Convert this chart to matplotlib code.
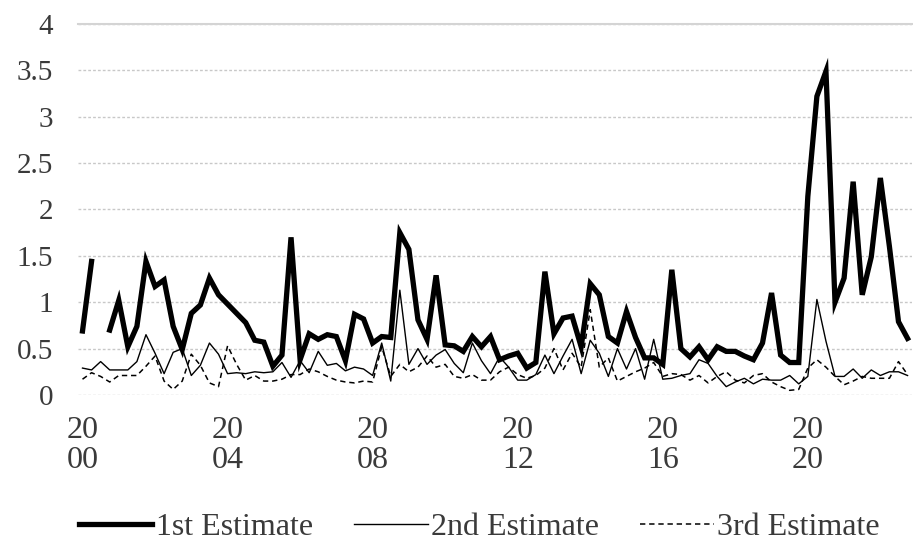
import numpy as np
import matplotlib
matplotlib.use("Agg")
import matplotlib.pyplot as plt

# quarterly, 2000Q1 .. 2022Q4
quarters = [f"{y}Q{q}" for y in range(2000, 2023) for q in range(1, 5)]
tick_labels = ["20\n00", "20\n04", "20\n08", "20\n12", "20\n16", "20\n20"]

first_est = [0.69, 1.44, np.nan, 0.70, 1.02, 0.52, 0.74, 1.44, 1.17, 1.24,
             0.74, 0.49, 0.88, 0.97, 1.26, 1.08, 0.98, 0.88, 0.78, 0.59,
             0.57, 0.31, 0.43, 1.70, 0.38, 0.66, 0.60, 0.65, 0.63, 0.37,
             0.87, 0.82, 0.56, 0.63, 0.62, 1.75, 1.57, 0.81, 0.60, 1.29,
             0.54, 0.53, 0.47, 0.63, 0.52, 0.63, 0.38, 0.42, 0.45, 0.29,
             0.35, 1.33, 0.66, 0.83, 0.85, 0.52, 1.20, 1.08, 0.63, 0.56,
             0.90, 0.62, 0.40, 0.40, 0.33, 1.35, 0.50, 0.41, 0.52, 0.38,
             0.52, 0.47, 0.47, 0.42, 0.38, 0.56, 1.10, 0.43, 0.35, 0.35,
             2.14, 3.22, 3.49, 1.00, 1.26, 2.30, 1.08, 1.49, 2.34, 1.60,
             0.79, 0.61]

second_est = [0.29, 0.27, 0.36, 0.27, 0.27, 0.27, 0.36, 0.65, 0.45, 0.23,
              0.46, 0.50, 0.21, 0.32, 0.56, 0.44, 0.23, 0.24, 0.23, 0.25,
              0.24, 0.25, 0.35, 0.19, 0.37, 0.24, 0.47, 0.32, 0.34, 0.26,
              0.30, 0.28, 0.21, 0.56, 0.15, 1.13, 0.33, 0.50, 0.33, 0.43,
              0.49, 0.34, 0.24, 0.56, 0.37, 0.23, 0.41, 0.30, 0.16, 0.16,
              0.22, 0.43, 0.23, 0.42, 0.60, 0.23, 0.59, 0.45, 0.20, 0.50,
              0.28, 0.50, 0.17, 0.60, 0.17, 0.18, 0.21, 0.23, 0.38, 0.34,
              0.20, 0.09, 0.14, 0.18, 0.12, 0.17, 0.16, 0.16, 0.21, 0.12,
              0.20, 1.03, 0.58, 0.20, 0.20, 0.28, 0.18, 0.27, 0.21, 0.25,
              0.25, 0.21]

third_est = [0.17, 0.24, 0.20, 0.14, 0.21, 0.21, 0.21, 0.31, 0.42, 0.15,
             0.06, 0.15, 0.44, 0.32, 0.13, 0.09, 0.53, 0.33, 0.16, 0.21,
             0.15, 0.15, 0.17, 0.22, 0.22, 0.28, 0.25, 0.20, 0.16, 0.14,
             0.13, 0.15, 0.14, 0.52, 0.20, 0.33, 0.25, 0.30, 0.42, 0.30,
             0.33, 0.20, 0.18, 0.22, 0.16, 0.16, 0.25, 0.30, 0.22, 0.18,
             0.21, 0.29, 0.50, 0.27, 0.45, 0.30, 0.92, 0.30, 0.40, 0.15,
             0.20, 0.25, 0.29, 0.35, 0.20, 0.23, 0.22, 0.16, 0.21, 0.13,
             0.20, 0.25, 0.16, 0.13, 0.21, 0.23, 0.14, 0.09, 0.05, 0.06,
             0.29, 0.38, 0.30, 0.20, 0.11, 0.15, 0.20, 0.18, 0.18, 0.18,
             0.36, 0.22]

plt.rcParams["font.family"] = ["Liberation Serif", "DejaVu Serif"]
txt_color = "#3a3a3a"

fig = plt.figure(figsize=(9.13, 5.43), dpi=100)
ax = fig.add_axes([0.0854, 0.2726, 0.9136, 0.6832])

x = np.arange(len(quarters))
ax.plot(x, first_est, color="black", linewidth=3.8, solid_joinstyle="miter",
        label="1st Estimate")
ax.plot(x, second_est, color="black", linewidth=1.0, label="2nd Estimate")
ax.plot(x, third_est, color="black", linewidth=1.1, linestyle=(0, (3.5, 2.5)),
        label="3rd Estimate")

ax.set_xlim(-0.5, len(quarters) - 0.5)
ax.set_ylim(0, 4)
ax.set_yticks(np.arange(0, 4.01, 0.5))
ax.set_yticklabels(["0", "0.5", "1", "1.5", "2", "2.5", "3", "3.5", "4"])
ax.set_xticks(x[::16])
ax.set_xticklabels(tick_labels, linespacing=1.05)

ax.grid(axis="y", color="#c8c8c8", linestyle=(0, (2, 1.5)), linewidth=1.0)
ax.set_axisbelow(True)
for s in ["left", "right", "bottom"]:
    ax.spines[s].set_visible(False)
ax.spines["top"].set_color("#d4d4d4")
ax.spines["top"].set_linewidth(1.5)

ax.tick_params(axis="y", length=0, pad=18, labelsize=21, labelcolor=txt_color)
ax.tick_params(axis="x", length=0, pad=15, labelsize=23, labelcolor=txt_color)

leg = fig.legend(loc="center", bbox_to_anchor=(0.525, 0.028), ncol=3,
                 frameon=False, fontsize=23, handlelength=2.3,
                 handletextpad=0.1, columnspacing=1.3)
for t in leg.get_texts():
    t.set_color(txt_color)

fig.savefig("out.png", dpi=100)
plt.close(fig)
